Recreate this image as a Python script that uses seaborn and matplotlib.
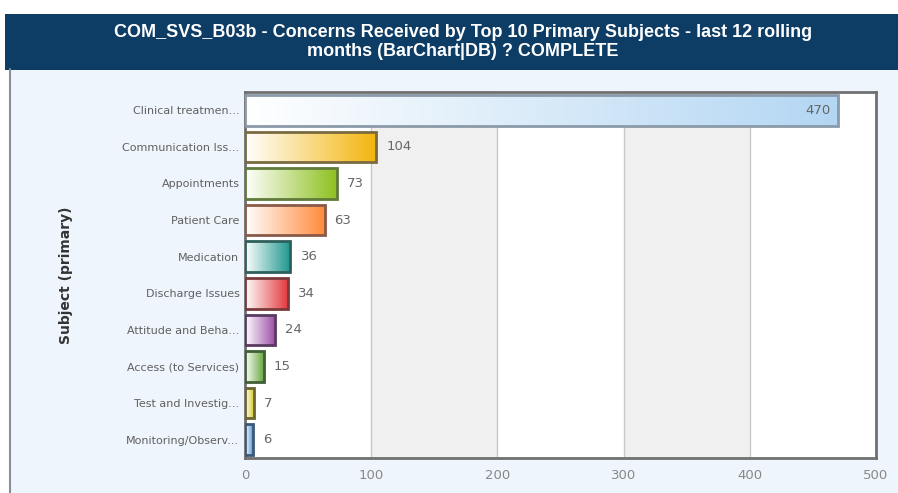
import numpy as np
import pandas as pd
import matplotlib
matplotlib.use("Agg")
import matplotlib.pyplot as plt
import matplotlib.colors as mcolors
from matplotlib.patches import Rectangle
import seaborn as sns

categories = ["Clinical treatmen...", "Communication Iss...", "Appointments", "Patient Care",
              "Medication", "Discharge Issues", "Attitude and Beha...", "Access (to Services)",
              "Test and Investig...", "Monitoring/Observ..."]
values = [470, 104, 73, 63, 36, 34, 24, 15, 7, 6]
bar_colors = ["#b3d6f3", "#f3b50c", "#8cc01c", "#ff8a3c", "#1c968c",
              "#e23a3e", "#9a4ca6", "#68a640", "#d9c832", "#5d9bd2"]
edge_colors = ["#8a9aa8", "#7a6a40", "#5f7a3a", "#8a5a48", "#2f5f5a",
               "#7a3a3a", "#5a3a60", "#3f5f35", "#6a6430", "#3a5a7a"]
x_ticks = [0, 100, 200, 300, 400, 500]
title_text = "COM_SVS_B03b - Concerns Received by Top 10 Primary Subjects - last 12 rolling\nmonths (BarChart|DB) ? COMPLETE"
y_label = "Subject (primary)"

df = pd.DataFrame({"subject": categories, "count": values})

sns.set_style("white")
plt.rcParams["font.family"] = ["DejaVu Sans"]

W, H = 898, 493
fig = plt.figure(figsize=(W / 100, H / 100), dpi=100)
fig.patch.set_facecolor("white")

# background panel
bg = fig.add_axes([0, 0, 1, 1], zorder=-10)
bg.set_xlim(0, W)
bg.set_ylim(H, 0)
bg.axis("off")
bg.add_patch(Rectangle((10, 69), W - 10, H - 69, facecolor="#eff5fc", edgecolor="none"))
bg.plot([10, 10], [69, H], color="#8a8f96", lw=1.5)
bg.add_patch(Rectangle((5, 14), W - 5, 56, facecolor="#0d3c65", edgecolor="none"))
bg.text(463, 42, title_text, color="white", ha="center", va="center",
        fontsize=13, fontweight="bold", linespacing=1.2,
        family=["Liberation Sans Narrow", "Liberation Sans", "DejaVu Sans"])

ax = fig.add_axes([245 / W, 1 - 458 / H, (876 - 245) / W, (458 - 92) / H])
ax.set_facecolor("white")

sns.barplot(data=df, y="subject", x="count", hue="subject", palette=bar_colors,
            legend=False, orient="h", width=0.84, ax=ax, zorder=3)

ax.set_xlim(0, 500)
ax.set_ylim(9.5, -0.5)

# alternating bands
for i, (a, b) in enumerate(zip(x_ticks[:-1], x_ticks[1:])):
    if i % 2 == 1:
        ax.axvspan(a, b, color="#f0f0f0", zorder=0, lw=0)
for t in x_ticks[1:-1]:
    ax.axvline(t, color="#c8c8c8", lw=1, zorder=1)

# gradient fills clipped to bars
for patch, col, ec in zip(ax.patches, bar_colors, edge_colors):
    x0, y0 = patch.get_x(), patch.get_y()
    w, h = patch.get_width(), patch.get_height()
    c1 = np.array(mcolors.to_rgb(col))
    grad = np.linspace(0, 1, 256)[None, :, None]
    start = np.array([1.0, 1.0, 1.0])
    img = start + (c1 - start) * grad
    im = ax.imshow(img, extent=[x0, x0 + w, y0 + h, y0], aspect="auto", zorder=3,
                   interpolation="bilinear")
    im.set_clip_path(patch)
    patch.set_facecolor("none")
    patch.set_edgecolor(ec)
    patch.set_linewidth(2.0)
    patch.set_zorder(4)

ax.set_xlim(0, 500)
ax.set_ylim(9.5, -0.5)

for i, v in enumerate(values):
    if v > 400:
        ax.text(v - 6, i, str(v), ha="right", va="center", fontsize=9.5, color="#666666", zorder=5)
    else:
        ax.text(v + 8, i, str(v), ha="left", va="center", fontsize=9.5, color="#666666", zorder=5)

ax.set_xticks(x_ticks)
ax.set_xticklabels([str(t) for t in x_ticks], fontsize=9.5, color="#888888")
ax.tick_params(axis="y", labelsize=8, labelcolor="#606060", length=0, pad=4)
ax.tick_params(axis="x", length=0, pad=8)
ax.set_xlabel("")
ax.set_ylabel(y_label, fontsize=10, fontweight="bold", color="#333333")
ax.yaxis.set_label_coords(-0.272, 0.5)
for s in ax.spines.values():
    s.set_visible(True)
    s.set_color("#707070")
    s.set_linewidth(2)

fig.savefig("out.png", dpi=100)
